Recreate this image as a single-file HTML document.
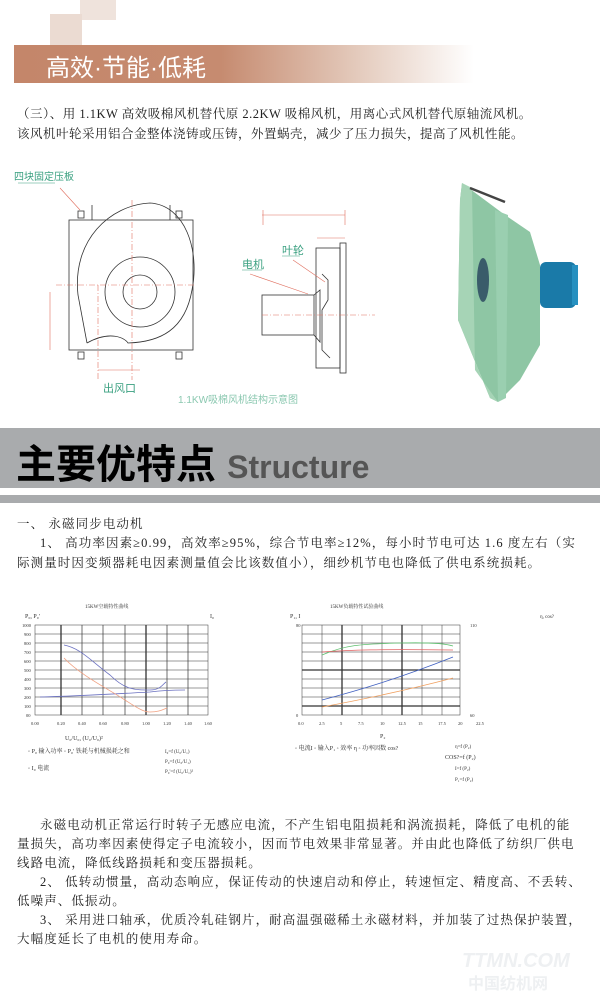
<!DOCTYPE html>
<html><head><meta charset="utf-8"><style>
body{margin:0;width:600px;height:993px;background:#fff;position:relative;overflow:hidden;font-family:"Liberation Serif","Noto Serif CJK SC",serif;color:#222}
.a{position:absolute;white-space:nowrap}
.p{font-size:12.5px;letter-spacing:0.5px}
.q{font-size:12.5px;letter-spacing:1.1px}
</style></head><body>
<div class="a" style="left:80px;top:0;width:36px;height:20px;background:#efe3dc"></div>
<div class="a" style="left:50px;top:14px;width:32px;height:32px;background:#ebdbd2"></div>
<div class="a" style="left:14px;top:45px;width:460px;height:38px;background:linear-gradient(to right,#c4866a 0%,#c68b70 45%,#e4cbbd 75%,#fff 100%)"></div>
<div class="a" style="left:46px;top:48px;font-size:24px;color:#fff;font-family:'Liberation Sans','Noto Sans CJK SC',sans-serif">高效·节能·低耗</div>
<div class="a p" style="left:17px;top:104px">（三）、用 1.1KW 高效吸棉风机替代原 2.2KW 吸棉风机，用离心式风机替代原轴流风机。</div>
<div class="a p" style="left:17px;top:124px">该风机叶轮采用铝合金整体浇铸或压铸，外置蜗壳，减少了压力损失，提高了风机性能。</div>

<svg class="a" style="left:0;top:170px" width="600" height="250">
<g fill="none" stroke="#333" stroke-width="0.8">
<rect x="69" y="50" width="124" height="130"/>
<path d="M87 173 L78 125 C72 70 110 35 150 33 C185 35 200 80 192 120 C185 160 160 172 128 173 C125 168 110 160 87 173"/>
<circle cx="140" cy="122" r="35"/><circle cx="140" cy="122" r="17"/>
<rect x="78" y="41" width="6" height="7"/><rect x="176" y="41" width="6" height="7"/>
<rect x="78" y="182" width="6" height="7"/><rect x="176" y="182" width="6" height="7"/>
<path d="M92 35V50M170 35V50"/>
<rect x="262" y="125" width="52" height="40"/>
<path d="M314 125 L320 120 V172 L314 165"/>
<rect x="316" y="78" width="24" height="120"/><rect x="340" y="73" width="6" height="130"/>
<path d="M322 104 L328 110 V130 L322 140 V180 L330 188"/>
</g>
<g stroke="#e07060" stroke-width="0.6" fill="none" stroke-dasharray="6 2 1 2">
<path d="M132 30V210M56 115H196M98 115V210M262 145H375"/>
</g>
<g stroke="#e07060" stroke-width="0.6" fill="none">
<path d="M50 122V180M98 200H140M262 45H345M317 68H345M263 40V55M345 40V55"/>
<path d="M60 18 L80 40M250 104 L308 124M293 90 L325 112"/>
</g>
<g font-family="'Liberation Sans','Noto Sans CJK SC',sans-serif" fill="#3aa080">
<text x="14" y="10" font-size="10">四块固定压板</text>
<text x="103" y="222" font-size="11">出风口</text>
<text x="178" y="233" font-size="10" fill="#8bc8b0">1.1KW吸棉风机结构示意图</text>
<text x="242" y="98" font-size="11">电机</text>
<text x="282" y="84" font-size="11">叶轮</text>
</g>
<path d="M18 13H55M242 100H262M282 86H300" stroke="#3aa080" stroke-width="0.6"/>
<polygon points="462,13 505,45 530,62 540,95 540,175 520,210 498,232 490,228 458,150 460,30" fill="#8ec6a4"/>
<polygon points="462,13 472,18 475,200 498,232 490,228 458,150 460,30" fill="#a6d4b6"/>
<polygon points="495,40 508,45 506,228 498,232" fill="#9acfb0"/>
<path d="M470 18 L505 32" stroke="#444" stroke-width="2.5"/>
<ellipse cx="483" cy="110" rx="6" ry="22" fill="#3a5c6a"/>
<rect x="540" y="92" width="36" height="46" rx="6" fill="#1a7aa8"/>
<rect x="572" y="95" width="6" height="40" fill="#2690c0"/>
</svg>

<div class="a" style="left:0;top:428px;width:600px;height:60px;background:#a9abad"></div>
<div class="a" style="left:0;top:495px;width:600px;height:8px;background:#a9abad"></div>
<div class="a" style="left:16px;top:442px;font-size:40px;font-weight:bold;color:#000;font-family:'Liberation Sans','Noto Sans CJK SC',sans-serif;line-height:46px">主要优特点 <span style="font-size:32px;color:#555">Structure</span></div>

<div class="a q" style="left:17px;top:514px">一、 永磁同步电动机</div>
<div class="a q" style="left:40px;top:533px">1、 高功率因素≥0.99，高效率≥95%，综合节电率≥12%，每小时节电可达 1.6 度左右（实</div>
<div class="a q" style="left:17px;top:553px">际测量时因变频器耗电因素测量值会比该数值小），细纱机节电也降低了供电系统损耗。</div>

<svg class="a" style="left:0;top:600px" width="600" height="200" font-family="'Liberation Serif','Noto Serif CJK SC',serif" font-size="5" fill="#333">
<text x="85" y="8">15KW空载特性曲线</text>
<text x="25" y="18" font-size="6">P₀, P₀'</text><text x="210" y="18" font-size="6">I₀</text>
<g stroke="#333" stroke-width="0.5" fill="none">
<rect x="35" y="25" width="173" height="90"/>
<path d="M35 34H208M35 43H208M35 52H208M35 61H208M35 70H208M35 79H208M35 88H208M35 97H208M35 106H208"/>
<path d="M61 25V115M82 25V115M103 25V115M125 25V115M146 25V115M167 25V115M188 25V115" stroke-width="0.7"/>
<path d="M61 25V115M146 25V115" stroke-width="1.3"/>
<rect x="302" y="25" width="158" height="90"/>
<path d="M302 34H460M302 43H460M302 52H460M302 61H460M302 70H460M302 79H460M302 88H460M302 97H460M302 106H460"/>
<path d="M322 25V115M342 25V115M362 25V115M382 25V115M402 25V115M422 25V115M442 25V115"/>
<path d="M342 25V115M402 25V115M302 70H460M302 106H460" stroke-width="1.3"/>
</g>
<path d="M64 45 C80 48 90 60 110 75 C125 90 135 90 150 90 C160 90 162 85 166 82" stroke="#6a70c0" fill="none" stroke-width="0.8"/>
<path d="M40 97 C80 96 130 93 150 92 C165 90 175 90 185 90" stroke="#6a70c0" fill="none" stroke-width="0.8"/>
<path d="M64 58 C80 75 110 90 125 100 C140 110 145 112 150 112 C158 112 162 110 167 108" stroke="#f0a080" fill="none" stroke-width="0.8"/>
<text x="330" y="8">15KW负载特性试验曲线</text>
<text x="290" y="18" font-size="6">P₁, I</text><text x="540" y="18" font-size="5">η, cos?</text>
<path d="M322 55 C345 45 360 44 400 43 C440 42 450 45 453 46" stroke="#60c070" fill="none" stroke-width="0.8"/>
<path d="M322 52 C350 50 380 49 453 50" stroke="#e06060" fill="none" stroke-width="0.8"/>
<path d="M322 100 C360 90 400 78 453 57" stroke="#4060c0" fill="none" stroke-width="0.8"/>
<path d="M322 107 C360 100 400 92 453 78" stroke="#f0a060" fill="none" stroke-width="0.8"/>
<g font-size="4.5">
<text x="22" y="27">1000</text><text x="24" y="36">900</text><text x="24" y="45">800</text><text x="24" y="54">700</text><text x="24" y="63">600</text><text x="24" y="72">500</text><text x="24" y="81">400</text><text x="24" y="90">300</text><text x="24" y="99">200</text><text x="24" y="108">100</text><text x="26" y="117">00</text>
<text x="31" y="125">0.00</text><text x="57" y="125">0.20</text><text x="78" y="125">0.40</text><text x="99" y="125">0.60</text><text x="121" y="125">0.80</text><text x="142" y="125">1.00</text><text x="163" y="125">1.20</text><text x="184" y="125">1.40</text><text x="204" y="125">1.60</text>
<text x="296" y="27">80</text><text x="296" y="117">0</text><text x="470" y="27">110</text><text x="470" y="117">60</text>
<text x="298" y="125">0.0</text><text x="319" y="125">2.5</text><text x="340" y="125">5</text><text x="358" y="125">7.5</text><text x="380" y="125">10</text><text x="398" y="125">12.5</text><text x="418" y="125">15</text><text x="438" y="125">17.5</text><text x="458" y="125">20</text><text x="476" y="125">22.5</text>
</g>
<text x="65" y="140" font-size="6">U₀/U₀, (U₀/U₀)²</text>
<text x="28" y="153" font-size="6">◦ P₀ 输入功率 ◦ P₀' 铁耗与机械损耗之和</text>
<text x="28" y="170" font-size="6">◦ I₀ 电流</text>
<text x="165" y="153" font-size="5">I₀=f (U₀/U₁)</text><text x="165" y="163" font-size="5">P₀=f (U₀/U₁)</text><text x="165" y="173" font-size="5">P₀'=f (U₀/U₁)²</text>
<text x="380" y="138" font-size="6">P₂</text>
<text x="295" y="150" font-size="6">◦ 电流I  ◦ 输入P₁  ◦ 效率 η  ◦ 功率因数 cos?</text>
<text x="455" y="148" font-size="5">η=f (P₂)</text><text x="445" y="159" font-size="6">COS?=f (P₂)</text><text x="455" y="170" font-size="5">I=f (P₂)</text><text x="455" y="181" font-size="5">P₁=f (P₂)</text>
</svg>

<div class="a q" style="left:40px;top:815px">永磁电动机正常运行时转子无感应电流，不产生铝电阻损耗和涡流损耗，降低了电机的能</div>
<div class="a q" style="left:17px;top:834px">量损失，高功率因素使得定子电流较小，因而节电效果非常显著。并由此也降低了纺织厂供电</div>
<div class="a q" style="left:17px;top:853px">线路电流，降低线路损耗和变压器损耗。</div>
<div class="a q" style="left:40px;top:872px">2、 低转动惯量，高动态响应，保证传动的快速启动和停止，转速恒定、精度高、不丢转、</div>
<div class="a q" style="left:17px;top:891px">低噪声、低振动。</div>
<div class="a q" style="left:40px;top:910px">3、 采用进口轴承，优质冷轧硅钢片，耐高温强磁稀土永磁材料，并加装了过热保护装置，</div>
<div class="a q" style="left:17px;top:929px">大幅度延长了电机的使用寿命。</div>
<div class="a" style="left:462px;top:950px;font-size:20px;font-weight:bold;font-style:italic;color:#eef0f2;font-family:'Liberation Sans',sans-serif">TTMN.COM</div>
<div class="a" style="left:468px;top:970px;font-size:16px;font-weight:bold;color:#eef0f2;font-family:'Liberation Sans','Noto Sans CJK SC',sans-serif">中国纺机网</div>
</body></html>
